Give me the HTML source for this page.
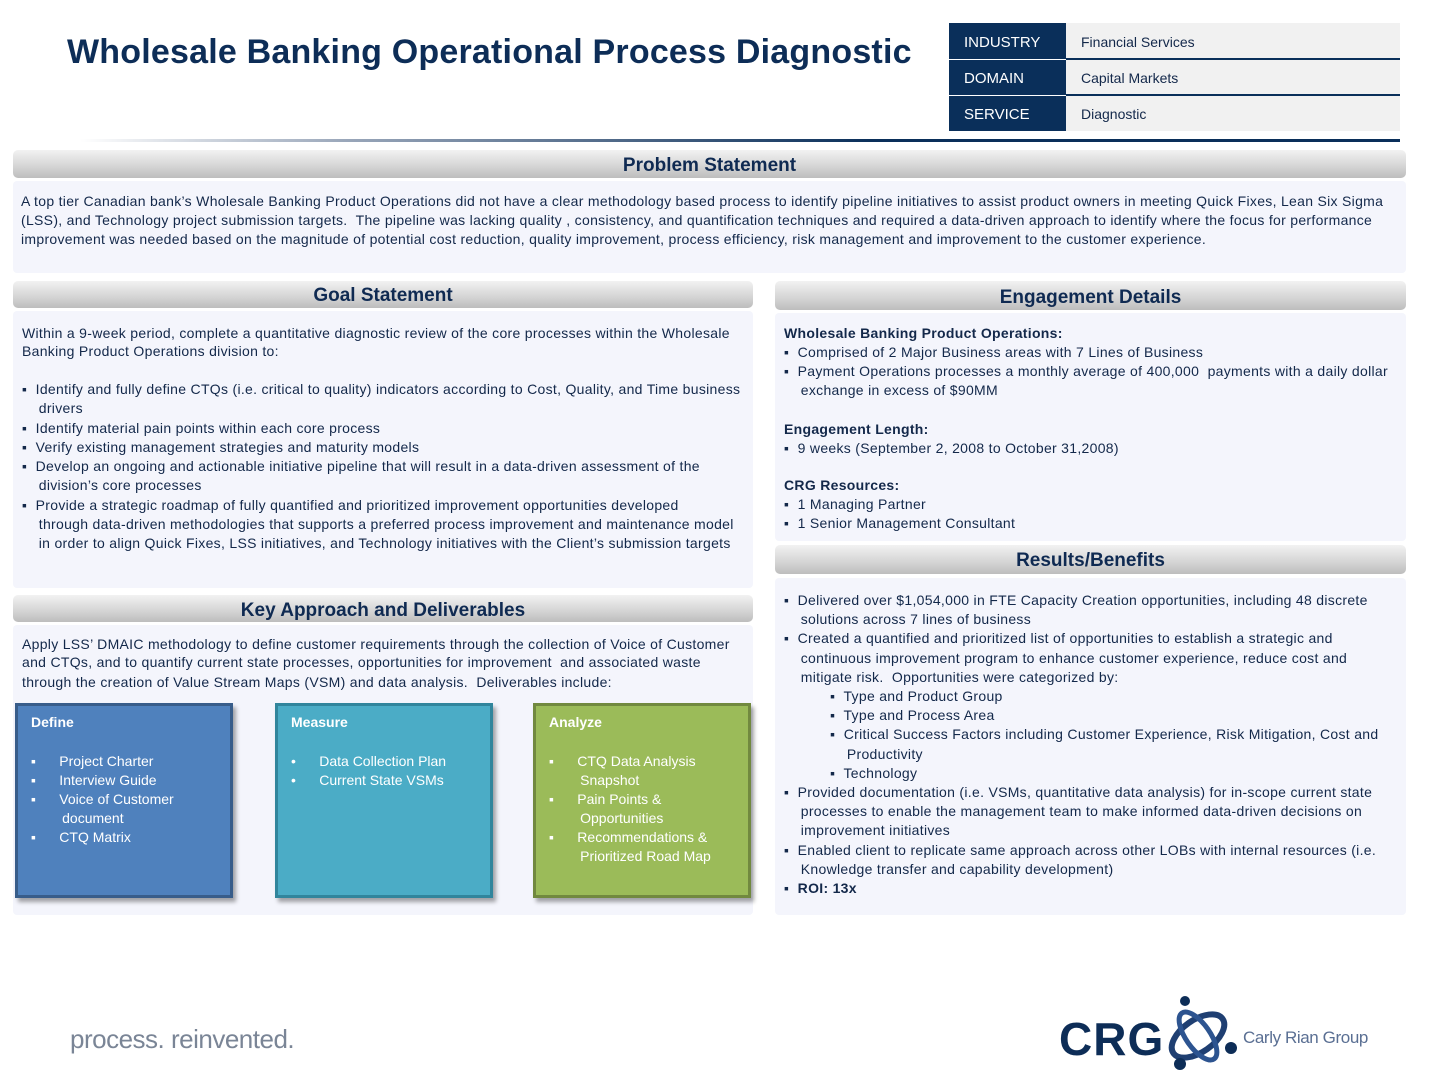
<!DOCTYPE html>
<html><head><meta charset="utf-8"><style>
*{margin:0;padding:0;box-sizing:border-box}
body{width:1440px;height:1080px;background:#fff;position:relative;overflow:hidden;font-family:"Liberation Sans",sans-serif;color:#13284a}
.a{position:absolute}
.bar{position:absolute;border-radius:5px;background:linear-gradient(#f2f2f2,#d4d4d4 60%,#bdbdbd);text-align:center;font-weight:bold;font-size:19px;color:#0f2a52}
.bd{position:absolute;background:#f4f5fc;border-radius:4px}
.t{position:absolute;font-size:14px;line-height:19px;white-space:nowrap;color:#13284a;letter-spacing:0.3px}
.box{position:absolute;color:#fff;font-size:14px;line-height:19px;box-shadow:3px 4px 4px rgba(0,0,0,.35)}
</style></head><body>
<div class="a" style="left:67px;top:33px;font-size:34px;font-weight:bold;color:#0d2d57;white-space:nowrap;letter-spacing:0.2px">Wholesale Banking Operational Process Diagnostic</div>

<div class="a" style="left:949px;top:23px;width:117px;height:108px;background:#0a2f5a"></div>
<div class="a" style="left:1066px;top:23px;width:334px;height:108px;background:#f1f1f1"></div>
<div class="a" style="left:1066px;top:58px;width:334px;height:2px;background:#0a2f5a"></div>
<div class="a" style="left:1066px;top:94px;width:334px;height:2px;background:#0a2f5a"></div>
<div class="a" style="left:949px;top:59px;width:117px;height:1px;background:#fff"></div>
<div class="a" style="left:949px;top:95px;width:117px;height:1px;background:#fff"></div>
<div class="a" style="left:964px;top:34px;color:#fff;font-size:15px">INDUSTRY</div>
<div class="a" style="left:964px;top:70px;color:#fff;font-size:15px">DOMAIN</div>
<div class="a" style="left:964px;top:106px;color:#fff;font-size:15px">SERVICE</div>
<div class="a" style="left:1081px;top:34px;font-size:14px">Financial Services</div>
<div class="a" style="left:1081px;top:70px;font-size:14px">Capital Markets</div>
<div class="a" style="left:1081px;top:106px;font-size:14px">Diagnostic</div>
<div class="a" style="left:80px;top:139px;width:1320px;height:3px;background:linear-gradient(90deg,#fff,#9aa7ba 20%,#0a2f5a 60%)"></div>

<div class="bar" style="left:13px;top:150px;width:1393px;height:28px;line-height:32px">Problem Statement</div>
<div class="bd" style="left:13px;top:181px;width:1393px;height:92px"></div>
<div class="t" style="left:21px;top:192px">A top tier Canadian bank’s Wholesale Banking Product Operations did not have a clear methodology based process to identify pipeline initiatives to assist product owners in meeting Quick Fixes, Lean Six Sigma</div>
<div class="t" style="left:21px;top:211px">(LSS), and Technology project submission targets.&nbsp; The pipeline was lacking quality , consistency, and quantification techniques and required a data-driven approach to identify where the focus for performance</div>
<div class="t" style="left:21px;top:230px">improvement was needed based on the magnitude of potential cost reduction, quality improvement, process efficiency, risk management and improvement to the customer experience.</div>

<div class="bar" style="left:13px;top:281px;width:740px;height:27px;line-height:30px">Goal Statement</div>
<div class="bd" style="left:13px;top:311px;width:740px;height:277px"></div>
<div class="t" style="left:22px;top:324px">Within a 9-week period, complete a quantitative diagnostic review of the core processes within the Wholesale</div>
<div class="t" style="left:22px;top:342px">Banking Product Operations division to:</div>
<div class="t" style="left:22px;top:380px;line-height:19.3px">▪&nbsp; Identify and fully define CTQs (i.e. critical to quality) indicators according to Cost, Quality, and Time business<br>&nbsp;&nbsp;&nbsp;&nbsp;drivers<br>▪&nbsp; Identify material pain points within each core process<br>▪&nbsp; Verify existing management strategies and maturity models<br>▪&nbsp; Develop an ongoing and actionable initiative pipeline that will result in a data-driven assessment of the<br>&nbsp;&nbsp;&nbsp;&nbsp;division’s core processes<br>▪&nbsp; Provide a strategic roadmap of fully quantified and prioritized improvement opportunities developed<br>&nbsp;&nbsp;&nbsp;&nbsp;through data-driven methodologies that supports a preferred process improvement and maintenance model<br>&nbsp;&nbsp;&nbsp;&nbsp;in order to align Quick Fixes, LSS initiatives, and Technology initiatives with the Client’s submission targets</div>

<div class="bar" style="left:13px;top:595px;width:740px;height:27px;line-height:31px">Key Approach and Deliverables</div>
<div class="bd" style="left:13px;top:625px;width:740px;height:290px"></div>
<div class="t" style="left:22px;top:635px">Apply LSS’ DMAIC methodology to define customer requirements through the collection of Voice of Customer</div>
<div class="t" style="left:22px;top:653px">and CTQs, and to quantify current state processes, opportunities for improvement&nbsp; and associated waste</div>
<div class="t" style="left:22px;top:673px">through the creation of Value Stream Maps (VSM) and data analysis.&nbsp; Deliverables include:</div>

<div class="box" style="left:15px;top:703px;width:218px;height:195px;background:#4f81bd;border:3px solid #385d8a"></div>
<div class="box" style="left:275px;top:703px;width:218px;height:195px;background:#4bacc6;border:3px solid #31859c"></div>
<div class="box" style="left:533px;top:703px;width:218px;height:195px;background:#9bbb59;border:3px solid #71893f"></div>
<div class="a" style="left:31px;top:714px;color:#fff;font-weight:bold;font-size:14px">Define</div>
<div class="a" style="left:291px;top:714px;color:#fff;font-weight:bold;font-size:14px">Measure</div>
<div class="a" style="left:549px;top:714px;color:#fff;font-weight:bold;font-size:14px">Analyze</div>
<div class="t" style="left:31px;top:752px;color:#fff;letter-spacing:0">▪&nbsp;&nbsp;&nbsp;&nbsp;&nbsp; Project Charter<br>▪&nbsp;&nbsp;&nbsp;&nbsp;&nbsp; Interview Guide<br>▪&nbsp;&nbsp;&nbsp;&nbsp;&nbsp; Voice of Customer<br>&nbsp;&nbsp;&nbsp;&nbsp;&nbsp;&nbsp;&nbsp; document<br>▪&nbsp;&nbsp;&nbsp;&nbsp;&nbsp; CTQ Matrix</div>
<div class="t" style="left:291px;top:752px;color:#fff;letter-spacing:0">•&nbsp;&nbsp;&nbsp;&nbsp;&nbsp; Data Collection Plan<br>•&nbsp;&nbsp;&nbsp;&nbsp;&nbsp; Current State VSMs</div>
<div class="t" style="left:549px;top:752px;color:#fff;letter-spacing:0">▪&nbsp;&nbsp;&nbsp;&nbsp;&nbsp; CTQ Data Analysis<br>&nbsp;&nbsp;&nbsp;&nbsp;&nbsp;&nbsp;&nbsp; Snapshot<br>▪&nbsp;&nbsp;&nbsp;&nbsp;&nbsp; Pain Points &amp;<br>&nbsp;&nbsp;&nbsp;&nbsp;&nbsp;&nbsp;&nbsp; Opportunities<br>▪&nbsp;&nbsp;&nbsp;&nbsp;&nbsp; Recommendations &amp;<br>&nbsp;&nbsp;&nbsp;&nbsp;&nbsp;&nbsp;&nbsp; Prioritized Road Map</div>

<div class="bar" style="left:775px;top:281px;width:631px;height:29px;line-height:33px">Engagement Details</div>
<div class="bd" style="left:775px;top:313px;width:631px;height:228px"></div>
<div class="t" style="left:784px;top:324px"><b>Wholesale Banking Product Operations:</b><br>▪&nbsp; Comprised of 2 Major Business areas with 7 Lines of Business<br>▪&nbsp; Payment Operations processes a monthly average of 400,000&nbsp; payments with a daily dollar<br>&nbsp;&nbsp;&nbsp;&nbsp;exchange in excess of $90MM</div>
<div class="t" style="left:784px;top:420px"><b>Engagement Length:</b><br>▪&nbsp; 9 weeks (September 2, 2008 to October 31,2008)</div>
<div class="t" style="left:784px;top:476px"><b>CRG Resources:</b><br>▪&nbsp; 1 Managing Partner<br>▪&nbsp; 1 Senior Management Consultant</div>

<div class="bar" style="left:775px;top:545px;width:631px;height:29px;line-height:32px">Results/Benefits</div>
<div class="bd" style="left:775px;top:578px;width:631px;height:337px"></div>
<div class="t" style="left:784px;top:591px;line-height:19.2px">▪&nbsp; Delivered over $1,054,000 in FTE Capacity Creation opportunities, including 48 discrete<br>&nbsp;&nbsp;&nbsp;&nbsp;solutions across 7 lines of business<br>▪&nbsp; Created a quantified and prioritized list of opportunities to establish a strategic and<br>&nbsp;&nbsp;&nbsp;&nbsp;continuous improvement program to enhance customer experience, reduce cost and<br>&nbsp;&nbsp;&nbsp;&nbsp;mitigate risk.&nbsp; Opportunities were categorized by:<br>&nbsp;&nbsp;&nbsp;&nbsp;&nbsp;&nbsp;&nbsp;&nbsp;&nbsp;&nbsp; ▪&nbsp; Type and Product Group<br>&nbsp;&nbsp;&nbsp;&nbsp;&nbsp;&nbsp;&nbsp;&nbsp;&nbsp;&nbsp; ▪&nbsp; Type and Process Area<br>&nbsp;&nbsp;&nbsp;&nbsp;&nbsp;&nbsp;&nbsp;&nbsp;&nbsp;&nbsp; ▪&nbsp; Critical Success Factors including Customer Experience, Risk Mitigation, Cost and<br>&nbsp;&nbsp;&nbsp;&nbsp;&nbsp;&nbsp;&nbsp;&nbsp;&nbsp;&nbsp;&nbsp;&nbsp;&nbsp;&nbsp; Productivity<br>&nbsp;&nbsp;&nbsp;&nbsp;&nbsp;&nbsp;&nbsp;&nbsp;&nbsp;&nbsp; ▪&nbsp; Technology<br>▪&nbsp; Provided documentation (i.e. VSMs, quantitative data analysis) for in-scope current state<br>&nbsp;&nbsp;&nbsp;&nbsp;processes to enable the management team to make informed data-driven decisions on<br>&nbsp;&nbsp;&nbsp;&nbsp;improvement initiatives<br>▪&nbsp; Enabled client to replicate same approach across other LOBs with internal resources (i.e.<br>&nbsp;&nbsp;&nbsp;&nbsp;Knowledge transfer and capability development)<br>▪&nbsp; <b>ROI: 13x</b></div>

<div class="a" style="left:70px;top:1024px;font-size:26px;color:#7a8596;letter-spacing:-0.5px">process. reinvented.</div>

<div class="a" style="left:1059px;top:1012px;font-size:46px;font-weight:bold;color:#0d2d57;letter-spacing:1px">CRG</div>
<svg class="a" style="left:1160px;top:996px" width="80" height="76" viewBox="0 0 80 76">
<ellipse cx="38" cy="40" rx="30" ry="16" transform="rotate(-35 38 40)" fill="none" stroke="#1f3f72" stroke-width="6"/>
<ellipse cx="38" cy="40" rx="28" ry="12" transform="rotate(55 38 40)" fill="none" stroke="#2d5490" stroke-width="5"/>
<circle cx="25" cy="5" r="5" fill="#0d2d57"/><circle cx="71" cy="52" r="6" fill="#0d2d57"/><circle cx="20" cy="68" r="6" fill="#0d2d57"/>
</svg>
<div class="a" style="left:1243px;top:1028px;font-size:17px;color:#5a6f93;letter-spacing:-0.4px">Carly Rian Group</div>
</body></html>
